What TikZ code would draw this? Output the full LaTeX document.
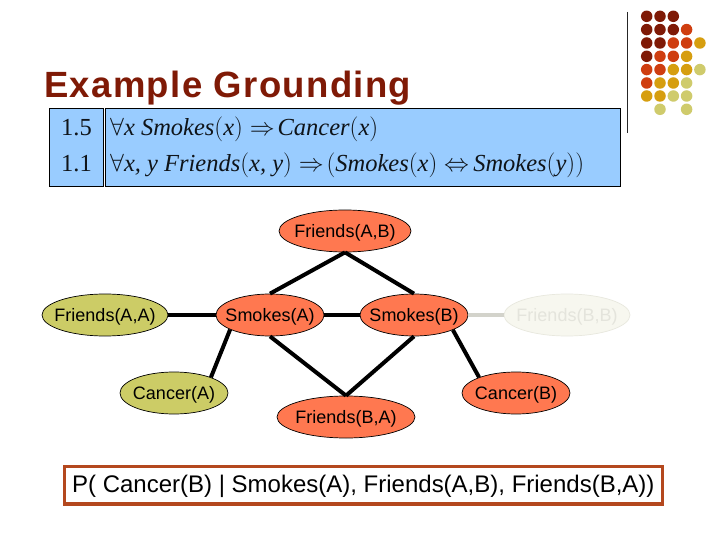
\documentclass[tikz,border=0pt]{standalone}
\usepackage{fontspec}
\setmainfont{Liberation Sans}
\newfontfamily\formfont{Liberation Serif}
\usetikzlibrary{shapes.geometric}
\definecolor{cDark}{HTML}{7F1A06}
\definecolor{cOrange}{HTML}{CF3E10}
\definecolor{cGold}{HTML}{D69E0F}
\definecolor{cLight}{HTML}{CFCB6C}
\definecolor{cBlue}{HTML}{99CCFF}
\definecolor{cSalmon}{HTML}{FF7850}
\definecolor{cOlive}{HTML}{CCCC66}
\definecolor{cFaintFill}{HTML}{F7F7EF}
\definecolor{cFaintLine}{HTML}{E8E8DE}
\definecolor{cFaintText}{HTML}{E4E4DC}
\definecolor{cBorder}{HTML}{B4481E}
\tikzset{
  atom/.style={ellipse,draw=black,line width=0.7pt,inner sep=0pt,minimum height=42pt,font=\fontsize{18}{20}\selectfont,text=black,text height=13.4pt,text depth=0pt},
  query/.style={atom,fill=cSalmon},
  evid/.style={atom,fill=cOlive},
  faint/.style={atom,fill=cFaintFill,draw=cFaintLine,text=cFaintText},
  link/.style={line width=4pt,draw=black},
  fadedlink/.style={line width=4pt,draw=cFaintLine!80!gray},
  tablecell/.style={draw=black,line width=1.2pt,fill=cBlue,inner sep=0pt,anchor=north west},
  formula/.style={anchor=base west,inner sep=0pt,font=\fontsize{24.5}{26}\selectfont\formfont,text=black!90!cBlue},
  dot/.style={circle,inner sep=0pt,minimum size=11.5pt},
}
\newcommand{\smk}{\textit{Smokes}}
\newcommand{\lbl}[1]{\makebox[0pt]{#1}}
\begin{document}
\begin{tikzpicture}[x=1pt,y=-1pt]
\useasboundingbox[fill=white] (0,0) rectangle (720,540);
% title and rule
\node[anchor=base west,inner sep=0pt,font=\fontsize{36.5}{40}\selectfont\bfseries\addfontfeature{LetterSpace=3.7},text=cDark] (title) at (44,98) {Example Grounding};
\draw[line width=1pt,black!85] (627,12) -- (627,133);
% dots
\foreach \row/\yy/\list in {
 1/16.3/{1/cDark,2/cDark,3/cDark},
 2/29.6/{1/cDark,2/cDark,3/cDark,4/cOrange},
 3/43/{1/cDark,2/cDark,3/cOrange,4/cOrange,5/cGold},
 4/56.3/{1/cDark,2/cOrange,3/cOrange,4/cGold},
 5/69.6/{1/cOrange,2/cOrange,3/cGold,4/cGold,5/cLight},
 6/83/{1/cOrange,2/cGold,3/cGold,4/cLight},
 7/96/{1/cGold,2/cGold,3/cLight,4/cLight},
 8/109.3/{2/cLight,4/cLight}}{
  \foreach \col/\cc in \list {
    \node[dot,fill=\cc] (d\row\col) at ({633.4+13.3*\col},\yy) {};
  }
}
% table
\node[tablecell,minimum width=54pt,minimum height=78pt] (weights) at (48.5,108) {};
\node[tablecell,minimum width=515.5pt,minimum height=78pt] (rules) at (104.5,108) {};
\node[formula] (w1) at (61,136) {1.5};
\node[formula] (w2) at (61,172) {1.1};
\node[formula] (f1) at (110,136) {$\forall$\textit{x Smokes}$($\textit{x}$)\Rightarrow\mskip2mu$\textit{Cancer}$($\textit{x}$)$};
\node[formula] (f2) at (110,172) {$\forall$\textit{x, y Friends}$($\textit{x, y}$)\Rightarrow\!\biggl($\smk$($\textit{x}$)\Leftrightarrow\,$\smk$($\textit{y}$)\biggr)$};
% atoms
\node[query,minimum width=132pt] (fab) at (345,231) {\lbl{Friends(A,B)}};
\node[evid,minimum width=126pt] (faa) at (105,315) {\lbl{Friends(A,A)}};
\node[query,minimum width=108pt] (sa) at (270,315) {\lbl{Smokes(A)}};
\node[query,minimum width=108pt] (sb) at (414,315) {\lbl{Smokes(B)}};
\node[faint,minimum width=126pt] (fbb) at (567,315) {\lbl{Friends(B,B)}};
\node[evid,minimum width=108pt] (ca) at (174,393) {\lbl{Cancer(A)}};
\node[query,minimum width=108pt] (cb) at (516,393) {\lbl{Cancer(B)}};
\node[query,minimum width=138pt] (fba) at (346,417) {\lbl{Friends(B,A)}};
% links
\draw[link] (fab.south) -- (sa.north);
\draw[link] (fab.south) -- (sb.north);
\draw[link] (faa.east) -- (sa.west);
\draw[link] (sa.east) -- (sb.west);
\draw[fadedlink] (sb.east) -- (fbb.west);
\draw[link] (sa.south) -- (fba.north);
\draw[link] (sb.south) -- (fba.north);
\draw[link] (sa.200) -- (ca.23);
\draw[link] (sb.-21.5) -- (cb.157);
% query box
\node[draw=cBorder,line width=3.5pt,fill=white,minimum width=598pt,minimum height=37.5pt,inner sep=0pt,font=\fontsize{24}{28}\selectfont,text=black,text height=14.3pt,text depth=0pt] (q) at (363.3,485) {\makebox[0pt]{P( Cancer(B) | Smokes(A), Friends(A,B), Friends(B,A))}};
\end{tikzpicture}
\end{document}
